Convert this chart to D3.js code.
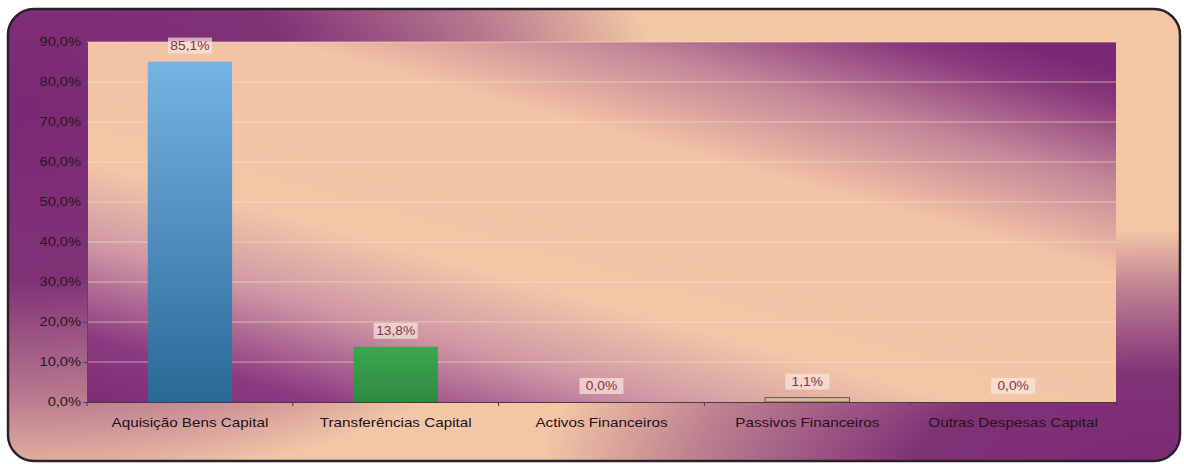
<!DOCTYPE html>
<html>
<head>
<meta charset="utf-8">
<script src="https://cdn.jsdelivr.net/npm/d3@7"></script>
<style>
html,body{margin:0;padding:0;background:#fff;}
svg{display:block;}
text{font-family:"Liberation Sans",Arial,sans-serif;}
</style>
</head>
<body>
<svg id="chart" width="1184" height="464"></svg>
<script>
const categories = ["Aquisição Bens Capital","Transferências Capital","Activos Financeiros","Passivos Financeiros","Outras Despesas Capital"];
const values = [85.1, 13.8, 0.0, 1.1, 0.0];
const valueLabels = ["85,1%","13,8%","0,0%","1,1%","0,0%"];
const yTicks = [0,10,20,30,40,50,60,70,80,90];
const yTickLabels = ["0,0%","10,0%","20,0%","30,0%","40,0%","50,0%","60,0%","70,0%","80,0%","90,0%"];

const svg = d3.select("#chart");
const plot = {left: 87, right: 1116, top: 42, bottom: 402};
const PURPLE = "#7a2a74", PEACH = "#f3c6a6";

const defs = svg.append("defs");
defs.append("clipPath").attr("id","frameClip").append("rect")
  .attr("x",8).attr("y",9).attr("width",1172).attr("height",452).attr("rx",26).attr("ry",26);

function radial(id, stops){
  const g = defs.append("radialGradient").attr("id",id).attr("cx",0.5).attr("cy",0.5).attr("r",0.5);
  stops.forEach(s=>g.append("stop").attr("offset",s[0]).attr("stop-color",PURPLE).attr("stop-opacity",s[1]));
}
radial("purpA",[[0,1],[0.45,0.95],[0.75,0.5],[1,0]]);
radial("purpB",[[0,1],[0.4,0.95],[0.75,0.45],[1,0]]);

// plot gradient
const pg = defs.append("linearGradient").attr("id","plotG")
  .attr("gradientUnits","userSpaceOnUse")
  .attr("x1",480).attr("y1",520).attr("x2",640).attr("y2",-60);
[[0,"#7a2a74"],[0.12,"#8c3a80"],[0.27,"#cf98a4"],[0.4,"#f3c6a6"],[0.68,"#f2c3a4"],[0.82,"#c48898"],[0.95,"#88387c"],[1,"#7a2a74"]]
  .forEach(s=>pg.append("stop").attr("offset",s[0]).attr("stop-color",s[1]));

const bg1 = defs.append("linearGradient").attr("id","bar0").attr("x1",0).attr("y1",0).attr("x2",0).attr("y2",1);
bg1.append("stop").attr("offset","0").attr("stop-color","#74b4e6");
bg1.append("stop").attr("offset","1").attr("stop-color","#2a6896");
const bg2 = defs.append("linearGradient").attr("id","bar1").attr("x1",0).attr("y1",0).attr("x2",0).attr("y2",1);
bg2.append("stop").attr("offset","0").attr("stop-color","#3aa84e");
bg2.append("stop").attr("offset","1").attr("stop-color","#2e8a40");

const barFills = ["url(#bar0)","url(#bar1)","#c8a890","#d9b89a","#c8a890"];

// outer frame background
const fr = svg.append("g").attr("clip-path","url(#frameClip)");
fr.append("rect").attr("x",0).attr("y",0).attr("width",1184).attr("height",464).attr("fill",PEACH);
fr.append("ellipse").attr("cx",20).attr("cy",110).attr("rx",640).attr("ry",380).attr("fill","url(#purpA)");
fr.append("ellipse").attr("cx",1160).attr("cy",470).attr("rx",620).attr("ry",240).attr("fill","url(#purpB)");
svg.append("rect").attr("x",8).attr("y",9).attr("width",1172).attr("height",452)
  .attr("rx",26).attr("ry",26)
  .attr("fill","none").attr("stroke","#2a2028").attr("stroke-width",2.5);

// plot area
svg.append("rect").attr("x",plot.left).attr("y",plot.top)
  .attr("width",plot.right-plot.left).attr("height",plot.bottom-plot.top)
  .attr("fill","url(#plotG)");

const x = d3.scaleBand().domain(categories).range([plot.left, plot.right]).paddingInner(0.59).paddingOuter(0.295);
const y = d3.scaleLinear().domain([0,90]).range([plot.bottom, plot.top]);

// gridlines
svg.append("g").selectAll("line").data(yTicks.filter(d=>d>0)).join("line")
  .attr("x1",plot.left).attr("x2",plot.right)
  .attr("y1",d=>y(d)).attr("y2",d=>y(d))
  .attr("stroke","#f8e0c4").attr("stroke-opacity",0.6).attr("stroke-width",1);

// bars
svg.append("g").selectAll("rect").data(values).join("rect")
  .attr("x",(d,i)=>x(categories[i]))
  .attr("y",d=>y(d))
  .attr("width",x.bandwidth())
  .attr("height",d=>y(0)-y(d))
  .attr("fill",(d,i)=>barFills[i])
  .attr("stroke",(d,i)=> i===3 ? "#6a5a4a" : "none")
  .attr("stroke-width",1);

// y axis
const yAxis = d3.axisLeft(y).tickValues(yTicks).tickFormat((d,i)=>yTickLabels[i]).tickSize(4).tickPadding(6);
const ya = svg.append("g").attr("transform",`translate(${plot.left},0)`).call(yAxis);
ya.select(".domain").attr("stroke","#5a4a50");
ya.selectAll(".tick line").attr("stroke","#5a4a50");
ya.selectAll("text").attr("font-size",12).attr("fill","#2a1624")
  .attr("transform","scale(1.22,1)").attr("x",-6/1.22);

// x axis
const xAxis = d3.axisBottom(x).tickSize(0).tickPadding(16);
const xa = svg.append("g").attr("transform",`translate(0,${plot.bottom})`).call(xAxis);
xa.select(".domain").attr("stroke","#4a3a40");
xa.selectAll("text").attr("font-size",12.5).attr("fill","#24121e")
  .attr("transform","scale(1.22,1)");
// category boundary ticks
const nCat = categories.length;
svg.append("g").selectAll("line").data(d3.range(nCat+1)).join("line")
  .attr("x1",i=>plot.left+i*(plot.right-plot.left)/nCat)
  .attr("x2",i=>plot.left+i*(plot.right-plot.left)/nCat)
  .attr("y1",plot.bottom).attr("y2",plot.bottom+4)
  .attr("stroke","#4a3a40");

// value labels
const lg = svg.append("g").selectAll("g").data(values).join("g")
  .attr("transform",(d,i)=>`translate(${x(categories[i])+x.bandwidth()/2},${y(d)-16})`);
lg.append("rect").attr("x",-22).attr("y",-8).attr("width",44).attr("height",16)
  .attr("fill","#fae6de").attr("fill-opacity",0.7);
lg.append("text").attr("text-anchor","middle").attr("dy","0.35em")
  .attr("font-size",12).attr("fill","#8a3442")
  .attr("transform","scale(1.15,1)")
  .text((d,i)=>valueLabels[i]);
</script>
</body>
</html>
